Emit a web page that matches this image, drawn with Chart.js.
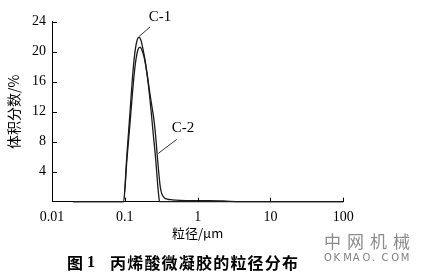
<!DOCTYPE html>
<html>
<head>
<meta charset="utf-8">
<script src="https://cdn.jsdelivr.net/npm/chart.js@4/dist/chart.umd.min.js"></script>
<style>
  html, body { margin: 0; padding: 0; background: #fff; }
  #wrap { width: 429px; height: 274px; }
</style>
</head>
<body>
<div id="wrap"><canvas id="psd"></canvas></div>
<script>
// particle size (um) and volume fraction (%)
const c1Size = [0.0193, 0.0954, 0.1072, 0.1179, 0.1297, 0.1403, 0.1494, 0.1567, 0.1669, 0.1778,
                0.1894, 0.2050, 0.2184, 0.2290, 0.2463, 0.2658, 0.2831, 0.2921, 0.2996, 100];
const c1Vol  = [0, 0, 6.5, 12, 17.5, 20.5, 21.7, 21.9, 21.5, 20.3,
                18.9, 16.5, 14.2, 12.2, 8.9, 5.6, 2.2, 0.8, 0, 0];

const c2Size = [0.0193, 0.0960, 0.1072, 0.1179, 0.1256, 0.1338, 0.1425, 0.1518, 0.1617, 0.1722,
                0.1836, 0.1955, 0.2084, 0.2219, 0.2363, 0.2518, 0.2658, 0.2831, 0.2949, 0.3045,
                0.3162, 0.3316, 0.3510, 0.3800, 0.4451, 0.5731, 1.079, 2.233, 3.823, 100];
const c2Vol  = [0, 0, 5.8, 10.5, 13.8, 16.8, 19, 20.3, 20.6, 20.2,
                19.3, 17.9, 16.2, 14.3, 12.6, 10.8, 8.6, 5.4, 3.5, 2.2,
                1.3, 0.8, 0.5, 0.35, 0.25, 0.18, 0.14, 0.1, 0, 0];

const xTicks = [0.01, 0.1, 1, 10, 100];
const yTicks = [4, 8, 12, 16, 20, 24];

const seriesNames = ['C-1', 'C-2'];

function toPoints(xs, ys) {
    return xs.map((x, i) => ({ x: x, y: ys[i] }));
}

const serif = "'Liberation Serif', 'Times New Roman', serif";
const cjk = "'Noto Sans CJK SC', sans-serif";

// label callouts, in data units: text spot, leader start, leader end
const callouts = [
    { text: seriesNames[0], at: [0.3045, 24.6], from: [0.1543, 21.96], to: [0.2219, 23.3] },
    { text: seriesNames[1], at: [0.63, 9.8], from: [0.2885, 6.45], to: [0.516, 8.3] }
];

const extras = {
    id: 'extras',
    afterDraw(chart) {
        const ctx = chart.ctx;
        const xs = chart.scales.x;
        const ys = chart.scales.y;
        const area = chart.chartArea;
        ctx.save();
        ctx.strokeStyle = '#000';
        ctx.lineWidth = 1;

        // inward tick marks
        ctx.beginPath();
        xTicks.forEach(v => {
            const px = Math.round(xs.getPixelForValue(v)) + 0.5;
            ctx.moveTo(px, area.bottom);
            ctx.lineTo(px, area.bottom - 4);
        });
        yTicks.forEach(v => {
            const py = Math.round(ys.getPixelForValue(v)) + 0.5;
            ctx.moveTo(area.left, py);
            ctx.lineTo(area.left + 5, py);
        });
        ctx.stroke();

        // callouts
        ctx.strokeStyle = '#333';
        ctx.fillStyle = '#000';
        ctx.font = '15px ' + serif;
        ctx.textAlign = 'center';
        ctx.textBaseline = 'middle';
        callouts.forEach(c => {
            ctx.beginPath();
            ctx.moveTo(xs.getPixelForValue(c.from[0]), ys.getPixelForValue(c.from[1]));
            ctx.lineTo(xs.getPixelForValue(c.to[0]), ys.getPixelForValue(c.to[1]));
            ctx.stroke();
            ctx.fillText(c.text, xs.getPixelForValue(c.at[0]), ys.getPixelForValue(c.at[1]));
        });

        // caption
        ctx.textAlign = 'left';
        ctx.font = 'bold 16px ' + cjk;
        ctx.fillText('图', 67, 263);
        ctx.font = 'bold 16px ' + serif;
        ctx.fillText('1', 87, 263);
        ctx.font = 'bold 16px ' + cjk;
        '丙烯酸微凝胶的粒径分布'.split('').forEach((ch, i) => ctx.fillText(ch, 110 + i * 17.2, 263));

        // watermark
        ctx.fillStyle = '#8c8c8c';
        ctx.font = '17px ' + cjk;
        ['中', '网', '机', '械'].forEach((ch, i) => ctx.fillText(ch, 324 + i * 23, 242));
        ctx.font = '10px DejaVu Sans';
        ctx.fillStyle = '#808080';
        'OKMAO.COM'.split('').forEach((ch, i) => ctx.fillText(ch, 324 + i * 9.6, 258));
        ctx.restore();
    }
};

function whenDocumentLoaded(action) {
    if (document.readyState === 'loading') {
        document.addEventListener('DOMContentLoaded', action);
    } else {
        action();
    }
}

whenDocumentLoaded(() => {
    const ctx = document.getElementById('psd');
    const lineStyle = {
        borderColor: '#1a1a1a',
        borderWidth: 1.3,
        pointRadius: 0,
        fill: false,
        clip: false,
        cubicInterpolationMode: 'monotone'
    };

    new Chart(ctx, {
        type: 'line',
        data: {
            datasets: [
                Object.assign({ label: seriesNames[0], data: toPoints(c1Size, c1Vol) }, lineStyle),
                Object.assign({ label: seriesNames[1], data: toPoints(c2Size, c2Vol) }, lineStyle)
            ]
        },
        options: {
            responsive: true,
            maintainAspectRatio: false,
            animation: false,
            layout: { padding: { left: 0, right: 85.7, top: 21.7, bottom: 27.3 } },
            plugins: {
                legend: { display: false },
                tooltip: { enabled: false }
            },
            scales: {
                x: {
                    type: 'logarithmic',
                    min: 0.01,
                    max: 100,
                    afterBuildTicks: (scale) => { scale.ticks = xTicks.map(v => ({ value: v })); },
                    afterFit: (scale) => { scale.height = 45; },
                    grid: { display: false, drawTicks: false },
                    border: { display: true, color: '#000', width: 1 },
                    ticks: {
                        color: '#000',
                        font: { family: serif, size: 14 },
                        padding: 7,
                        maxRotation: 0,
                        autoSkip: false,
                        callback: (v) => String(v)
                    },
                    title: {
                        display: true,
                        text: '粒径/μm',
                        color: '#000',
                        font: { family: cjk, size: 13 },
                        padding: { top: 0, bottom: 6 }
                    }
                },
                y: {
                    min: 0,
                    max: 24,
                    afterBuildTicks: (scale) => { scale.ticks = yTicks.map(v => ({ value: v })); },
                    afterFit: (scale) => { scale.width = 52; },
                    grid: { display: false, drawTicks: false },
                    border: { display: true, color: '#000', width: 1 },
                    ticks: {
                        color: '#000',
                        font: { family: serif, size: 14 },
                        padding: 6
                    },
                    title: {
                        display: true,
                        text: '体积分数/%',
                        color: '#000',
                        font: { family: cjk, size: 14 },
                        padding: { top: 5, bottom: 0 }
                    }
                }
            }
        },
        plugins: [extras]
    });
});
</script>
</body>
</html>
